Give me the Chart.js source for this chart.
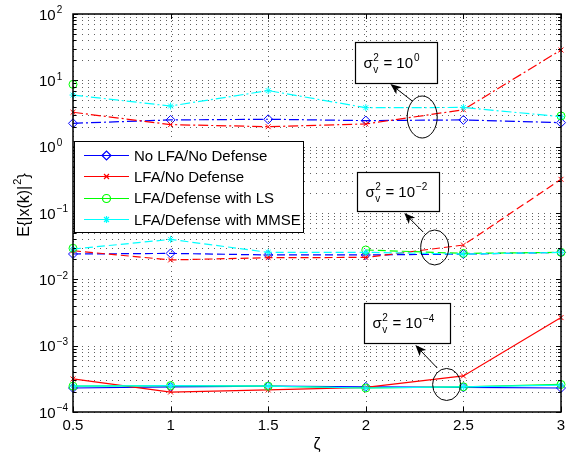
<!DOCTYPE html>
<html>
<head>
<meta charset="utf-8">
<script src="https://cdn.jsdelivr.net/npm/chart.js@4.4.1/dist/chart.umd.min.js"></script>
<style>
  html, body { margin: 0; padding: 0; background: #fff; }
  #wrap { width: 585px; height: 454px; }
</style>
</head>
<body>
<div id="wrap"><canvas id="mseChart" width="585" height="454"></canvas></div>
<script>
const zeta = [0.5, 1, 1.5, 2, 2.5, 3];
const seriesNames = ["No LFA/No Defense", "LFA/No Defense", "LFA/Defense with LS", "LFA/Defense with MMSE"];
const noiseExponents = ["0", "\u22122", "\u22124"];

// sigma_v^2 = 10^0
const noLfa_s0 = [2.25, 2.53, 2.59, 2.47, 2.53, 2.3];
const lfa_s0   = [3.3, 2.15, 2.0, 2.2, 3.6, 28.7];
const ls_s0    = [8.7, null, null, null, null, 2.9];
const mmse_s0  = [6.0, 4.1, 7.0, 3.87, 3.9, 2.83];
// sigma_v^2 = 10^-2
const noLfa_s2 = [0.0241, 0.0246, 0.0233, 0.0233, 0.024, 0.0255];
const lfa_s2   = [0.027, 0.0196, 0.0212, 0.0214, 0.0329, 0.322];
const ls_s2    = [0.0294, null, null, 0.0277, 0.0246, 0.0255];
const mmse_s2  = [0.0286, 0.040, 0.0255, 0.0255, 0.024, 0.0255];
// sigma_v^2 = 10^-4
const noLfa_s4 = [2.3e-4, 2.4e-4, 2.45e-4, 2.4e-4, 2.35e-4, 2.3e-4];
const lfa_s4   = [3.15e-4, 2.0e-4, 2.15e-4, 2.35e-4, 3.5e-4, 2.65e-3];
const ls_s4    = [2.45e-4, 2.5e-4, 2.45e-4, 2.3e-4, 2.4e-4, 2.6e-4];
const mmse_s4  = [2.45e-4, 2.5e-4, 2.45e-4, 2.3e-4, 2.4e-4, 2.55e-4];

const xTicks = [0.5, 1, 1.5, 2, 2.5, 3];
const yDecades = [-4, -3, -2, -1, 0, 1, 2];

const groups = [
    [noLfa_s0, lfa_s0, ls_s0, mmse_s0],
    [noLfa_s2, lfa_s2, ls_s2, mmse_s2],
    [noLfa_s4, lfa_s4, ls_s4, mmse_s4]
];

const FONT = "'Liberation Sans', Arial, sans-serif";
const colors = ["#0000ff", "#ff0000", "#00ff00", "#00ffff"];
const markers = ["rectRot", "crossRot", "circle", "star"];
const markerSize = [4.5, 3.5, 4, 3.5];
const groupDash = [[10, 3, 2, 3], [8, 4], []];

// callouts: box corners, arrow tail->tip, ellipse centre (data units)
const callouts = [
    { box: [1.947, 37.8, 2.366, 9.1], arrow: [2.238, 4.88, 2.126, 8.8], ell: [2.289, 2.8, 15, 21] },
    { box: [1.957, 0.415, 2.376, 0.107], arrow: [2.294, 0.0516, 2.197, 0.1], ell: [2.353, 0.0302, 14, 17.5] },
    { box: [1.993, 4.4e-3, 2.432, 1.1e-3], arrow: [2.366, 4.6e-4, 2.254, 1.02e-3], ell: [2.414, 2.6e-4, 14, 16] }
];

const datasets = [];
groups.forEach((grp, g) => {
    grp.forEach((vals, s) => {
        datasets.push({
            label: seriesNames[s],
            data: zeta.map((x, i) => ({ x: x, y: vals[i] })),
            borderColor: colors[s],
            borderWidth: 1.2,
            borderDash: groupDash[g],
            pointStyle: markers[s],
            pointRadius: markerSize[s],
            pointBorderColor: colors[s],
            pointBackgroundColor: "rgba(0,0,0,0)",
            pointBorderWidth: 1,
            fill: false,
            tension: 0,
            clip: false,
            order: 3 - s
        });
    });
});

function supText(ctx, base, sup, x, y, size) {
    ctx.font = size + "px " + FONT;
    ctx.fillText(base, x, y);
    let w = ctx.measureText(base).width;
    ctx.font = Math.round(size * 0.67) + "px " + FONT;
    ctx.fillText(sup, x + w + 1, y - size * 0.42);
    return w + 1 + ctx.measureText(sup).width;
}

// dotted grid drawn by hand so the dots stay crisp
const dottedGrid = {
    id: "dottedGrid",
    beforeDatasetsDraw(chart) {
        const ctx = chart.ctx;
        const a = chart.chartArea;
        const xs = chart.scales.x, ys = chart.scales.y;
        ctx.save();
        ctx.fillStyle = "rgba(0,0,0,0.62)";
        xTicks.forEach(v => {
            const px = Math.round(xs.getPixelForValue(v));
            for (let py = a.top + 2; py < a.bottom; py += 5) ctx.fillRect(px, py, 1, 1);
        });
        yDecades.forEach((d, k) => {
            for (let m = 1; m <= 9; m++) {
                if (k === yDecades.length - 1 && m > 1) break;
                const py = Math.round(ys.getPixelForValue(m * Math.pow(10, d)));
                for (let px = a.left + 3; px < a.right; px += 6) ctx.fillRect(px, py, 1, 1);
            }
        });
        ctx.restore();
    }
};

const decor = {
    id: "decor",
    afterDatasetsDraw(chart) {
        const ctx = chart.ctx;
        const a = chart.chartArea;
        const xs = chart.scales.x, ys = chart.scales.y;
        ctx.save();
        ctx.fillStyle = "#000";
        ctx.strokeStyle = "#000";

        // inner ticks
        ctx.lineWidth = 1;
        ctx.beginPath();
        yDecades.forEach((d, k) => {
            for (let m = 1; m <= 9; m++) {
                if (k === yDecades.length - 1 && m > 1) break;
                const py = Math.round(ys.getPixelForValue(m * Math.pow(10, d))) + 0.5;
                const len = m === 1 ? 5 : 3;
                ctx.moveTo(a.left, py); ctx.lineTo(a.left + len, py);
                ctx.moveTo(a.right, py); ctx.lineTo(a.right - len, py);
            }
        });
        xTicks.forEach(v => {
            const px = Math.round(xs.getPixelForValue(v)) + 0.5;
            ctx.moveTo(px, a.bottom); ctx.lineTo(px, a.bottom - 5);
            ctx.moveTo(px, a.top); ctx.lineTo(px, a.top + 5);
        });
        ctx.stroke();

        // axes box
        ctx.lineWidth = 1.5;
        ctx.strokeRect(a.left, a.top, a.right - a.left, a.bottom - a.top);

        // y tick labels 10^n
        ctx.textAlign = "left";
        ctx.textBaseline = "alphabetic";
        yDecades.forEach(d => {
            const py = ys.getPixelForValue(Math.pow(10, d));
            const ex = d < 0 ? "\u2212" + Math.abs(d) : String(d);
            supText(ctx, "10", ex, 39, py + 5.5, 15);
        });

        // y title
        ctx.save();
        ctx.translate(24, 205);
        ctx.rotate(-Math.PI / 2);
        ctx.font = "16px " + FONT;
        const t1 = "E{|x(k)|";
        const w1 = ctx.measureText(t1).width;
        ctx.font = "11px " + FONT;
        const w2 = ctx.measureText("2").width;
        ctx.font = "16px " + FONT;
        const w3 = ctx.measureText("}").width;
        let sx = -(w1 + w2 + 1 + w3) / 2;
        ctx.fillText(t1, sx, 5);
        ctx.font = "11px " + FONT;
        ctx.fillText("2", sx + w1 + 1, -3);
        ctx.font = "16px " + FONT;
        ctx.fillText("}", sx + w1 + w2 + 1, 5);
        ctx.restore();

        // x title
        ctx.font = "16px " + FONT;
        ctx.textAlign = "center";
        ctx.fillText("\u03b6", (a.left + a.right) / 2, 449);
        ctx.textAlign = "left";

        // legend
        const lg = { x: 74, y: 141, w: 229, h: 91 };
        ctx.fillStyle = "#fff";
        ctx.fillRect(lg.x, lg.y, lg.w, lg.h);
        ctx.lineWidth = 1;
        ctx.strokeStyle = "#000";
        ctx.strokeRect(lg.x + 0.5, lg.y + 0.5, lg.w, lg.h);
        seriesNames.forEach((name, s) => {
            const ry = 155 + s * 21.4;
            ctx.strokeStyle = colors[s];
            ctx.lineWidth = 1.2;
            ctx.beginPath();
            ctx.moveTo(84, Math.round(ry) + 0.5);
            ctx.lineTo(129, Math.round(ry) + 0.5);
            ctx.stroke();
            ctx.fillStyle = "rgba(0,0,0,0)";
            Chart.helpers.drawPoint(ctx, { pointStyle: markers[s], radius: markerSize[s], rotation: 0, borderWidth: 1 }, 106.5, Math.round(ry) + 0.5);
            ctx.fillStyle = "#000";
            ctx.font = "15px " + FONT;
            ctx.fillText(name, 134, ry + 5.5);
        });

        // callouts
        callouts.forEach((c, i) => {
            const bx0 = xs.getPixelForValue(c.box[0]), by0 = ys.getPixelForValue(c.box[1]);
            const bx1 = xs.getPixelForValue(c.box[2]), by1 = ys.getPixelForValue(c.box[3]);
            ctx.fillStyle = "#fff";
            ctx.fillRect(bx0, by0, bx1 - bx0, by1 - by0);
            ctx.strokeStyle = "#000";
            ctx.lineWidth = 1.2;
            ctx.strokeRect(Math.round(bx0) + 0.5, Math.round(by0) + 0.5, Math.round(bx1 - bx0), Math.round(by1 - by0));
            // text
            ctx.fillStyle = "#000";
            const base = (by0 + by1) / 2 + 5;
            let tx = bx0 + 8;
            ctx.font = "15px " + FONT;
            ctx.fillText("\u03c3", tx, base);
            tx += ctx.measureText("\u03c3").width;
            ctx.font = "10px " + FONT;
            ctx.fillText("2", tx + 0.5, base - 7);
            ctx.fillText("v", tx + 0.5, base + 5);
            tx += ctx.measureText("2").width + 1;
            ctx.font = "15px " + FONT;
            const eqs = " = ";
            ctx.fillText(eqs, tx, base);
            tx += ctx.measureText(eqs).width;
            supText(ctx, "10", noiseExponents[i], tx, base, 15);

            // ellipse
            const ex = xs.getPixelForValue(c.ell[0]), ey = ys.getPixelForValue(c.ell[1]);
            ctx.lineWidth = 1;
            ctx.beginPath();
            ctx.ellipse(ex, ey, c.ell[2], c.ell[3], 0, 0, Math.PI * 2);
            ctx.stroke();

            // arrow
            const ax0 = xs.getPixelForValue(c.arrow[0]), ay0 = ys.getPixelForValue(c.arrow[1]);
            const ax1 = xs.getPixelForValue(c.arrow[2]), ay1 = ys.getPixelForValue(c.arrow[3]);
            const ang = Math.atan2(ay1 - ay0, ax1 - ax0);
            ctx.beginPath();
            ctx.moveTo(ax0, ay0);
            ctx.lineTo(ax1 - 8 * Math.cos(ang), ay1 - 8 * Math.sin(ang));
            ctx.stroke();
            ctx.beginPath();
            ctx.moveTo(ax1, ay1);
            ctx.lineTo(ax1 - 11 * Math.cos(ang) + 4.5 * Math.sin(ang), ay1 - 11 * Math.sin(ang) - 4.5 * Math.cos(ang));
            ctx.lineTo(ax1 - 8 * Math.cos(ang), ay1 - 8 * Math.sin(ang));
            ctx.lineTo(ax1 - 11 * Math.cos(ang) - 4.5 * Math.sin(ang), ay1 - 11 * Math.sin(ang) + 4.5 * Math.cos(ang));
            ctx.closePath();
            ctx.fill();
        });
        ctx.restore();
    }
};

Chart.defaults.font.family = FONT;

new Chart(document.getElementById("mseChart").getContext("2d"), {
    type: "line",
    data: { datasets: datasets },
    options: {
        responsive: false,
        animation: false,
        devicePixelRatio: 1,
        layout: { padding: { left: 0, right: 24, top: 14, bottom: 0 } },
        scales: {
            x: {
                type: "linear",
                min: 0.5,
                max: 3,
                afterBuildTicks: s => { s.ticks = xTicks.map(v => ({ value: v })); },
                afterFit: s => { s.height = 42; },
                ticks: { color: "#000", font: { size: 15 }, padding: 5, maxRotation: 0, callback: v => String(v) },
                grid: { display: false, drawTicks: false },
                border: { display: false }
            },
            y: {
                type: "logarithmic",
                min: 1e-4,
                max: 100,
                afterFit: s => { s.width = 73; },
                ticks: { callback: () => "" },
                grid: { display: false, drawTicks: false },
                border: { display: false }
            }
        },
        plugins: {
            legend: { display: false },
            tooltip: { enabled: false }
        }
    },
    plugins: [dottedGrid, decor]
});
</script>
</body>
</html>
